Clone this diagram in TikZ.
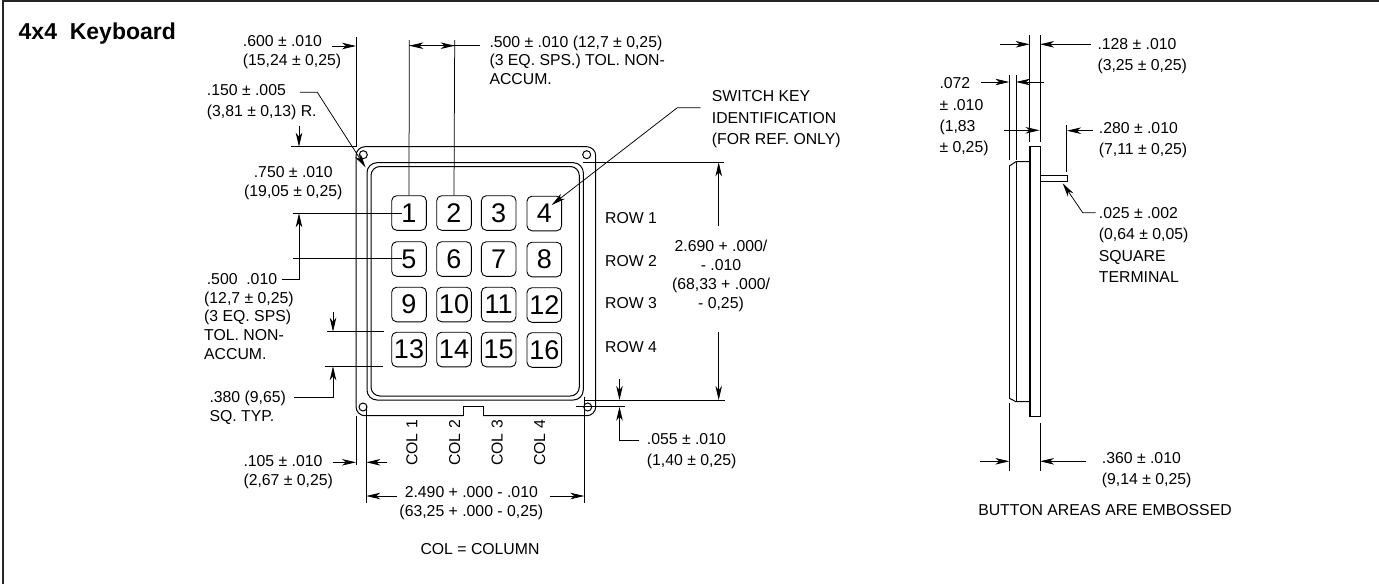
\documentclass[tikz,border=0pt]{standalone}
\usepackage{fontspec}
\setmainfont{Liberation Sans}
\usetikzlibrary{arrows.meta}

\definecolor{framegray}{gray}{0.15}

\tikzset{
  outline/.style={line width=1pt},
  dimline/.style={line width=0.75pt},
  dimarrow/.style={line width=0.75pt, -{Stealth[length=14pt,width=6.5pt,inset=4pt]}},
  keycap/.style={draw, line width=0.9pt, rounded corners=5pt, minimum size=34.6pt, inner sep=0pt, font=\fontsize{27}{27}\selectfont},
  note/.style={anchor=north west, inner sep=0pt, align=left, font=\fontsize{15.8}{#1}\selectfont},
  note/.default=18.8,
  midnote/.style={anchor=north, inner sep=0pt, align=center, font=\fontsize{15.8}{#1}\selectfont},
  midnote/.default=18.8,
  tag/.style={inner sep=0pt, font=\fontsize{15.8}{18}\selectfont}
}

\begin{document}
\begin{tikzpicture}[x=1pt, y=-1pt]
  \useasboundingbox (0,0) rectangle (1379,584);
  \draw[framegray, line width=2.2pt] (3.2,584) -- (3.2,1.2) -- (1379,1.2); % frame, left and top only

  \node[anchor=north west, inner sep=0pt, font=\fontsize{23}{26}\bfseries\selectfont] (title) at (18.5,22.5) {4x4\ \ Keyboard};

  % plate, front view
  \draw[outline, rounded corners=9pt] (483,415.7) -- (595.7,415.7) -- (595.7,146.7) -- (356,146.7) -- (356,415.7) -- (463.3,415.7);
  \draw[outline] (463.3,415.7) -- (463.3,406.7) -- (483,406.7) -- (483,415.7); % notch
  \draw[outline, rounded corners=10pt] (367,162.7) rectangle (583.3,400);
  \draw[outline, rounded corners=9pt] (371,166.5) rectangle (579.3,396);
  \draw[outline] (363.3,154.7) circle (4);
  \draw[outline] (586.7,154.7) circle (4);
  \draw[outline] (363,407) circle (4);
  \draw[outline] (587.7,407) circle (4);

  % keys
  \node[keycap] (k1) at (409,213) {1};
  \node[keycap] (k2) at (454,213) {2};
  \node[keycap] (k3) at (498.7,213) {3};
  \node[keycap] (k4) at (544.3,213.5) {4};
  \node[keycap] (k5) at (409,259) {5};
  \node[keycap] (k6) at (454,259) {6};
  \node[keycap] (k7) at (498.7,259) {7};
  \node[keycap] (k8) at (544.3,259.5) {8};
  \node[keycap] (k9) at (409,304.5) {9};
  \node[keycap] (k10) at (454,304.5) {10};
  \node[keycap] (k11) at (498.7,304.5) {11};
  \node[keycap] (k12) at (544.3,305) {12};
  \node[keycap] (k13) at (409,349.5) {13};
  \node[keycap] (k14) at (454,349.5) {14};
  \node[keycap] (k15) at (498.7,349.5) {15};
  \node[keycap] (k16) at (544.3,350) {16};

  % row and column tags
  \node[tag, anchor=west] (row1) at (605,218.3) {ROW 1};
  \node[tag, anchor=west] (row2) at (605,261) {ROW 2};
  \node[tag, anchor=west] (row3) at (605,303.3) {ROW 3};
  \node[tag, anchor=west] (row4) at (605,346.7) {ROW 4};
  \node[tag, rotate=90] (col1) at (412,443) {COL 1};
  \node[tag, rotate=90] (col2) at (454.7,443) {COL 2};
  \node[tag, rotate=90] (col3) at (497.3,443) {COL 3};
  \node[tag, rotate=90] (col4) at (539.7,443) {COL 4};

  % texts, front view
  \node[note] (t600) at (242.7,35.5) {.600 ± .010\\(15,24 ± 0,25)};
  \node[note] (t500a) at (489.3,35.5) {.500 ± .010 (12,7 ± 0,25)\\(3 EQ. SPS.) TOL. NON-\\ACCUM.};
  \node[note=21] (t150) at (206.7,84) {.150 ± .005\\(3,81 ± 0,13) R.};
  \node[midnote] (t750) at (293.3,166) {.750 ± .010\\(19,05 ± 0,25)};
  \node[note=18.6] (t500b) at (204,273.5) {\,.500\ \ .010\\(12,7 ± 0,25)\\(3 EQ. SPS)\\TOL. NON-\\ACCUM.};
  \node[note] (t380) at (209.3,391) {.380 (9,65)\\SQ. TYP.};
  \node[note] (t105) at (243.3,455.5) {.105 ± .010\\(2,67 ± 0,25)};
  \node[midnote] (t2490) at (471.3,486) {2.490 + .000 - .010\\(63,25 + .000 - 0,25)};
  \node[tag] (tcol) at (480,549) {COL = COLUMN};
  \node[note=21.4] (tswitch) at (711.7,90.5) {SWITCH KEY\\IDENTIFICATION\\(FOR REF. ONLY)};
  \node[midnote=18.8] (t2690) at (721,240) {2.690 + .000/\\- .010\\(68,33 + .000/\\- 0,25)};
  \node[note=21] (t055) at (646.7,433.3) {.055 ± .010\\(1,40 ± 0,25)};

  % texts, side view
  \node[note=20.8] (t128) at (1097.3,38.5) {.128 ± .010\\(3,25 ± 0,25)};
  \node[note=21.4] (t072) at (939.3,77.5) {.072\\± .010\\(1,83\\± 0,25)};
  \node[note=21.4] (t280) at (1098.7,122) {.280 ± .010\\(7,11 ± 0,25)};
  \node[note=21.4] (t025) at (1098.7,207) {.025 ± .002\\(0,64 ± 0,05)\\SQUARE\\TERMINAL};
  \node[note=21.4] (t360) at (1101.7,452) {.360 ± .010\\(9,14 ± 0,25)};
  \node[tag] (tbutton) at (1105,510.3) {BUTTON AREAS ARE EMBOSSED};

  % side view body
  \draw[outline] (1009.3,166) -- (1016,161.7) -- (1029.7,161.7); % top chamfer
  \draw[outline] (1009.3,398.3) -- (1016,401.7) -- (1029.7,401.7); % bottom chamfer
  \draw[outline] (1009.3,166) -- (1009.3,398.3);
  \draw[outline] (1016,161.7) -- (1016,401.7);
  \draw[line width=1.8pt] (1029.7,146.7) -- (1029.7,416.7); % heavy face
  \draw[outline] (1029.7,146.7) rectangle (1040.3,416.7); % plate
  \draw[outline] (1040.3,175.7) rectangle (1067.7,181.3); % terminal

  % front view dimension points
  \coordinate (a1) at (356,37);
  \coordinate (a2) at (356,146.7);
  \coordinate (a3) at (331.7,46);
  \coordinate (a4) at (356,46);
  \coordinate (b1) at (409.3,40);
  \coordinate (b2) at (454.7,40);
  \coordinate (b3) at (409.3,45.7);
  \coordinate (b4) at (454.7,45.7);
  \coordinate (b5) at (480,45.7);
  \coordinate (c1) at (300,92.3);
  \coordinate (c2) at (317.3,92.3);
  \coordinate (c3) at (365.5,167.3);
  \coordinate (d1) at (290.7,146.7);
  \coordinate (d2) at (299,126);
  \coordinate (d3) at (299,146.7);
  \coordinate (d4) at (292.7,213.3);
  \coordinate (d5) at (401.7,213.3);
  \coordinate (d6) at (299,213.3);
  \coordinate (d7) at (293,258.7);
  \coordinate (d8) at (401.7,258.7);
  \coordinate (d9) at (281.7,279);
  \coordinate (d10) at (299,279);
  \coordinate (e1) at (327,331.7);
  \coordinate (e2) at (384,331.7);
  \coordinate (e3) at (333,312.3);
  \coordinate (e4) at (333,331.7);
  \coordinate (e5) at (325.3,366.3);
  \coordinate (e6) at (383,366.3);
  \coordinate (e7) at (294.3,397.3);
  \coordinate (e8) at (333,397.3);
  \coordinate (e9) at (333,366.3);
  \coordinate (f1) at (356,415.7);
  \coordinate (f2) at (356,465);
  \coordinate (f3) at (366.3,405);
  \coordinate (f4) at (366.3,502.7);
  \coordinate (f5) at (332.7,462.3);
  \coordinate (f6) at (356,462.3);
  \coordinate (f7) at (387.3,462.3);
  \coordinate (f8) at (366.3,462.3);
  \coordinate (g1) at (397.3,496);
  \coordinate (g2) at (366.3,496);
  \coordinate (g3) at (550,496);
  \coordinate (g4) at (584.3,496);
  \coordinate (g5) at (584.3,396.7);
  \coordinate (g6) at (584.3,503.3);
  \coordinate (h1) at (584.3,400);
  \coordinate (h2) at (725,400);
  \coordinate (h3) at (576,406.7);
  \coordinate (h4) at (625,406.7);
  \coordinate (h5) at (619.5,379.3);
  \coordinate (h6) at (619.5,400);
  \coordinate (h7) at (639.3,440);
  \coordinate (h8) at (619.5,440);
  \coordinate (h9) at (619.5,406.7);
  \coordinate (i1) at (583.3,162.3);
  \coordinate (i2) at (724,162.3);
  \coordinate (i3) at (718.7,226);
  \coordinate (i4) at (718.7,162.3);
  \coordinate (i5) at (718.7,331.7);
  \coordinate (i6) at (718.7,400);
  \coordinate (j1) at (700.7,107.7);
  \coordinate (j2) at (677.3,107.7);
  \coordinate (j3) at (551.7,205);

  % front view dimensions
  \draw[dimline] (a1) -- (a2);
  \draw[dimarrow] (a3) -- (a4);
  \draw[dimline] (b1) -- (k1.north);
  \draw[dimline] (b2) -- (k2.north);
  \draw[dimarrow] (b4) -- (b3);
  \draw[dimarrow] (b3) -- (b4);
  \draw[dimline] (b4) -- (b5);
  \draw[dimarrow] (c1) -- (c2) -- (c3); % radius leader
  \draw[dimline] (d1) -- (a2);
  \draw[dimarrow] (d2) -- (d3);
  \draw[dimline] (d4) -- (d5);
  \draw[dimarrow] (d9) -- (d10) -- (d6);
  \draw[dimline] (d7) -- (d8);
  \draw[dimline] (e1) -- (e2);
  \draw[dimarrow] (e3) -- (e4);
  \draw[dimline] (e5) -- (e6);
  \draw[dimarrow] (e7) -- (e8) -- (e9);
  \draw[dimline] (f1) -- (f2);
  \draw[dimline] (f3) -- (f4);
  \draw[dimarrow] (f5) -- (f6);
  \draw[dimarrow] (f7) -- (f8);
  \draw[dimarrow] (g1) -- (g2);
  \draw[dimarrow] (g3) -- (g4);
  \draw[dimline] (g5) -- (g6);
  \draw[dimline] (h1) -- (h2);
  \draw[dimline] (h3) -- (h4);
  \draw[dimarrow] (h5) -- (h6);
  \draw[dimarrow] (h7) -- (h8) -- (h9);
  \draw[dimline] (i1) -- (i2);
  \draw[dimarrow] (i3) -- (i4);
  \draw[dimarrow] (i5) -- (i6);
  \draw[dimarrow] (j1) -- (j2) -- (j3); % key leader

  % side view dimension points
  \coordinate (m1) at (1029.7,35);
  \coordinate (m2) at (1029.7,141.7);
  \coordinate (m3) at (1040,35);
  \coordinate (m4) at (1040,141.7);
  \coordinate (m5) at (1000,44.3);
  \coordinate (m6) at (1029.7,44.3);
  \coordinate (m7) at (1090.7,44.3);
  \coordinate (m8) at (1040,44.3);
  \coordinate (n1) at (1009.3,75);
  \coordinate (n2) at (1009.3,160);
  \coordinate (n3) at (1016,75);
  \coordinate (n4) at (1016,160);
  \coordinate (n5) at (981,82);
  \coordinate (n6) at (1009.3,82);
  \coordinate (n7) at (1044.3,82);
  \coordinate (n8) at (1016,82);
  \coordinate (n9) at (1004,130.3);
  \coordinate (n10) at (1039.5,130.3);
  \coordinate (p1) at (1066.7,125);
  \coordinate (p2) at (1066.7,171.7);
  \coordinate (p3) at (1092.7,130.7);
  \coordinate (p4) at (1067,130.7);
  \coordinate (q1) at (1095.7,212.7);
  \coordinate (q2) at (1082.7,212.7);
  \coordinate (q3) at (1062.7,183.3);
  \coordinate (r1) at (1009.3,403.3);
  \coordinate (r2) at (1009.3,470.7);
  \coordinate (r3) at (1040,422.7);
  \coordinate (r4) at (1040,470.7);
  \coordinate (r5) at (980,461.3);
  \coordinate (r6) at (1009.3,461.3);
  \coordinate (r7) at (1086,461.3);
  \coordinate (r8) at (1040,461.3);

  % side view dimensions
  \draw[dimline] (m1) -- (m2);
  \draw[dimline] (m3) -- (m4);
  \draw[dimarrow] (m5) -- (m6);
  \draw[dimarrow] (m7) -- (m8);
  \draw[dimline] (n1) -- (n2);
  \draw[dimline] (n3) -- (n4);
  \draw[dimarrow] (n5) -- (n6);
  \draw[dimarrow] (n7) -- (n8);
  \draw[dimarrow] (n9) -- (n10);
  \draw[dimline] (p1) -- (p2);
  \draw[dimarrow] (p3) -- (p4);
  \draw[dimarrow] (q1) -- (q2) -- (q3);
  \draw[dimline] (r1) -- (r2);
  \draw[dimline] (r3) -- (r4);
  \draw[dimarrow] (r5) -- (r6);
  \draw[dimarrow] (r7) -- (r8);
\end{tikzpicture}
\end{document}
